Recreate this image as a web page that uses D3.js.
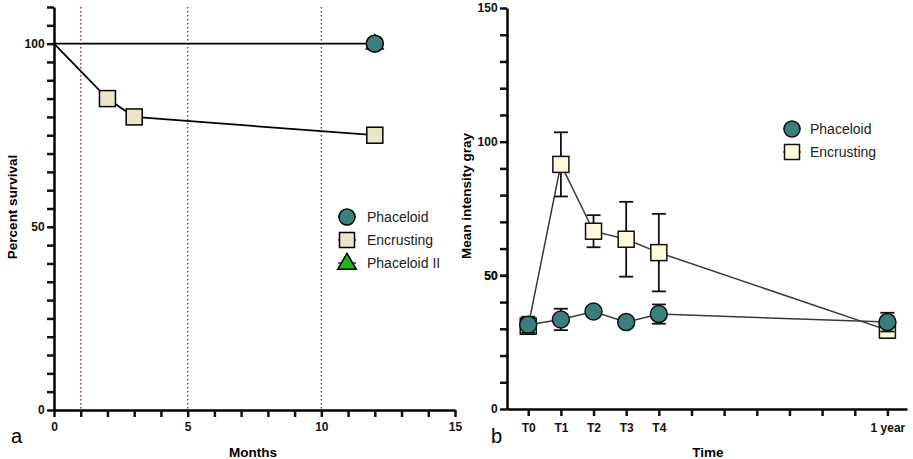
<!DOCTYPE html>
<html>
<head>
<meta charset="utf-8">
<script src="https://cdn.jsdelivr.net/npm/d3@7"></script>
<style>
  body { margin: 0; background: #fff; }
  svg { font-family: "Liberation Sans", Arial, sans-serif; }
  .tick text { font-weight: bold; font-size: 12px; fill: #111; }
</style>
</head>
<body>
<svg id="chart" width="913" height="459"></svg>
<script>
// ---- panel a : survival
const monthsPhaceloid = [0, 12]
const survPhaceloid = [100, 100]
const monthsEncrusting = [0, 2, 3, 12]
const survEncrusting = [100, 85, 80, 75]
const monthsPhaceloidII = [12]
const survPhaceloidII = [100]
const refLines = [1, 5, 10]

// ---- panel b : intensity
const timeLabels = ["T0", "T1", "T2", "T3", "T4", "1 year"]
const timeIndex = [0, 1, 2, 3, 4, 11]
const grayPhaceloid = [31.5, 33.5, 36.5, 32.5, 35.5, 32.5]
const errPhaceloid = [3, 4, 1, 1, 3.6, 3.5]
const grayEncrusting = [31, 91.5, 66.5, 63.5, 58.5, 29.5]
const errEncrusting = [3, 12, 6, 14, 14.5, 3]

const teal = "#3b7f7d"
const svg = d3.select("#chart")

// thick ticks, like the original
function styleAxis(g) {
  g.selectAll(".tick line").attr("stroke", "#111").attr("stroke-width", 2.5)
  g.select(".domain").attr("stroke", "#000").attr("stroke-width", 2.5)
}

/////////////// panel a
const xa = d3.scaleLinear().domain([0, 15]).range([54, 455])
const ya = d3.scaleLinear().domain([0, 110]).range([410, 7])
const ga = svg.append("g")

// dotted reference lines
ga.selectAll(".ref").data(refLines).join("line")
  .attr("x1", d => xa(d)).attr("x2", d => xa(d))
  .attr("y1", ya(110)).attr("y2", ya(0))
  .attr("stroke", d => d === 1 ? "#c0282a" : "#555")
  .attr("stroke-width", 1.5)
  .attr("stroke-dasharray", "1.5,2.5")

// axes
ga.append("g").attr("transform", "translate(0," + ya(0) + ")")
  .call(d3.axisBottom(xa).tickValues(d3.range(0, 16)).tickSizeInner(7).tickSizeOuter(0)
    .tickFormat(d => d % 5 === 0 ? d : ""))
  .call(styleAxis)
  .call(g => g.selectAll(".tick text").attr("dy", "0.95em"))
ga.append("g").attr("transform", "translate(" + xa(0) + ",0)")
  .call(d3.axisLeft(ya).tickValues(d3.range(0, 111, 5)).tickSizeInner(7).tickSizeOuter(0)
    .tickFormat(d => d % 50 === 0 ? d : ""))
  .call(styleAxis)
  .call(g => g.selectAll(".tick text").attr("dx", "0.05em"))

const lineA = d3.line().x(d => xa(d[0])).y(d => ya(d[1]))
ga.append("path").datum(d3.zip(monthsPhaceloid, survPhaceloid))
  .attr("d", lineA).attr("fill", "none").attr("stroke", "#000").attr("stroke-width", 1.8)
ga.append("path").datum(d3.zip(monthsEncrusting, survEncrusting))
  .attr("d", lineA).attr("fill", "none").attr("stroke", "#000").attr("stroke-width", 1.8)

const tri = d3.symbol().type(d3.symbolTriangle).size(120)
const sq = 16
ga.selectAll(".tri").data(d3.zip(monthsPhaceloidII, survPhaceloidII)).join("path")
  .attr("d", tri).attr("transform", d => "translate(" + xa(d[0]) + "," + (ya(d[1]) + 0.5) + ")")
  .attr("fill", "#22b522").attr("stroke", "#000").attr("stroke-width", 1.5)
ga.selectAll(".sq").data(d3.zip(monthsEncrusting, survEncrusting).slice(1)).join("rect")
  .attr("x", d => xa(d[0]) - sq / 2).attr("y", d => ya(d[1]) - sq / 2)
  .attr("width", sq).attr("height", sq)
  .attr("fill", "#ece5c8").attr("stroke", "#000").attr("stroke-width", 1.5)
ga.selectAll(".circ").data(d3.zip(monthsPhaceloid, survPhaceloid).slice(1)).join("circle")
  .attr("cx", d => xa(d[0])).attr("cy", d => ya(d[1])).attr("r", 8.5)
  .attr("fill", teal).attr("stroke", "#000").attr("stroke-width", 1.5)

// legend a
const legA = ga.append("g").attr("transform", "translate(347,217)")
const legItemsA = ["Phaceloid", "Encrusting", "Phaceloid II"]
legItemsA.forEach((name, i) => {
  const g = legA.append("g").attr("transform", "translate(0," + i * 23 + ")")
  g.append("line").attr("x1", -9).attr("x2", 9).attr("stroke", "#000").attr("stroke-width", 1.2)
  if (i === 0) g.append("circle").attr("r", 8).attr("fill", teal).attr("stroke", "#000").attr("stroke-width", 1.5)
  if (i === 1) g.append("rect").attr("x", -7.5).attr("y", -7.5).attr("width", 15).attr("height", 15)
    .attr("fill", "#ece5c8").attr("stroke", "#000").attr("stroke-width", 1.5)
  if (i === 2) g.append("path").attr("d", d3.symbol().type(d3.symbolTriangle).size(150)).attr("transform", "translate(0,1)")
    .attr("fill", "#22b522").attr("stroke", "#000").attr("stroke-width", 1.5)
  g.append("text").attr("x", 20).attr("y", 5).attr("font-size", 14).attr("fill", "#222").text(name)
})

ga.append("text").attr("transform", "translate(17,207) rotate(-90)")
  .attr("text-anchor", "middle").attr("font-weight", "bold").attr("font-size", 13.5).text("Percent survival")
ga.append("text").attr("x", 253).attr("y", 457)
  .attr("text-anchor", "middle").attr("font-weight", "bold").attr("font-size", 13.5).text("Months")
ga.append("text").attr("x", 11).attr("y", 443).attr("font-size", 20).text("a")

/////////////// panel b
const xb = d3.scaleLinear().domain([-0.65, 11.6]).range([507, 907])
const yb = d3.scaleLinear().domain([0, 150]).range([409, 8])
const gb = svg.append("g")

gb.append("g").attr("transform", "translate(0," + yb(0) + ")")
  .call(d3.axisBottom(xb).tickValues(d3.range(0, 12)).tickSizeInner(7).tickSizeOuter(0)
    .tickFormat(d => timeIndex.includes(d) ? timeLabels[timeIndex.indexOf(d)] : ""))
  .call(styleAxis)
  .call(g => g.selectAll(".tick text").attr("dy", "1.1em"))
gb.append("g").attr("transform", "translate(" + xb(-0.65) + ",0)")
  .call(d3.axisLeft(yb).tickValues(d3.range(0, 151, 10).concat([50])).tickSizeInner(7).tickSizeOuter(0)
    .tickFormat(d => d % 50 === 0 ? d : ""))
  .call(styleAxis)
  .call(g => g.selectAll(".tick text").attr("dx", "0.05em"))

const ptsP = timeIndex.map((t, i) => ({ x: t, y: grayPhaceloid[i], e: errPhaceloid[i] }))
const ptsE = timeIndex.map((t, i) => ({ x: t, y: grayEncrusting[i], e: errEncrusting[i] }))
const lineB = d3.line().x(d => xb(d.x)).y(d => yb(d.y))

function errBars(pts) {
  const g = gb.append("g").attr("stroke", "#111").attr("stroke-width", 1.8)
  g.selectAll("line.v").data(pts).join("line")
    .attr("x1", d => xb(d.x)).attr("x2", d => xb(d.x))
    .attr("y1", d => yb(d.y - d.e)).attr("y2", d => yb(d.y + d.e))
  g.selectAll("line.t").data(pts).join("line")
    .attr("x1", d => xb(d.x) - 7).attr("x2", d => xb(d.x) + 7)
    .attr("y1", d => yb(d.y + d.e)).attr("y2", d => yb(d.y + d.e))
  g.selectAll("line.b").data(pts).join("line")
    .attr("x1", d => xb(d.x) - 7).attr("x2", d => xb(d.x) + 7)
    .attr("y1", d => yb(d.y - d.e)).attr("y2", d => yb(d.y - d.e))
}

gb.append("path").datum(ptsE).attr("d", lineB).attr("fill", "none").attr("stroke", "#3a3a3a").attr("stroke-width", 1.5)
gb.append("path").datum(ptsP).attr("d", lineB).attr("fill", "none").attr("stroke", "#3a3a3a").attr("stroke-width", 1.5)
errBars(ptsE)
gb.selectAll(".sqb").data(ptsE).join("rect")
  .attr("x", d => xb(d.x) - 8).attr("y", d => yb(d.y) - 8).attr("width", 16).attr("height", 16)
  .attr("fill", "#fdf9dc").attr("stroke", "#111").attr("stroke-width", 1.5)
errBars(ptsP)
gb.selectAll(".cb").data(ptsP).join("circle")
  .attr("cx", d => xb(d.x)).attr("cy", d => yb(d.y)).attr("r", 8.5)
  .attr("fill", teal).attr("stroke", "#111").attr("stroke-width", 1.5)

const legB = gb.append("g").attr("transform", "translate(792,129)")
;["Phaceloid", "Encrusting"].forEach((name, i) => {
  const g = legB.append("g").attr("transform", "translate(0," + i * 23 + ")")
  g.append("line").attr("x1", -9).attr("x2", 9).attr("stroke", "#333").attr("stroke-width", 1.2)
  if (i === 0) g.append("circle").attr("r", 8).attr("fill", teal).attr("stroke", "#111").attr("stroke-width", 1.5)
  else g.append("rect").attr("x", -7.5).attr("y", -7.5).attr("width", 15).attr("height", 15)
    .attr("fill", "#fdf9dc").attr("stroke", "#111").attr("stroke-width", 1.5)
  g.append("text").attr("x", 18).attr("y", 5).attr("font-size", 14).attr("fill", "#222").text(name)
})

gb.append("text").attr("transform", "translate(471,196) rotate(-90)")
  .attr("text-anchor", "middle").attr("font-weight", "bold").attr("font-size", 13.5).text("Mean intensity gray")
gb.append("text").attr("x", 708).attr("y", 457)
  .attr("text-anchor", "middle").attr("font-weight", "bold").attr("font-size", 13.5).text("Time")
gb.append("text").attr("x", 491).attr("y", 443).attr("font-size", 20).text("b")
</script>
</body>
</html>
